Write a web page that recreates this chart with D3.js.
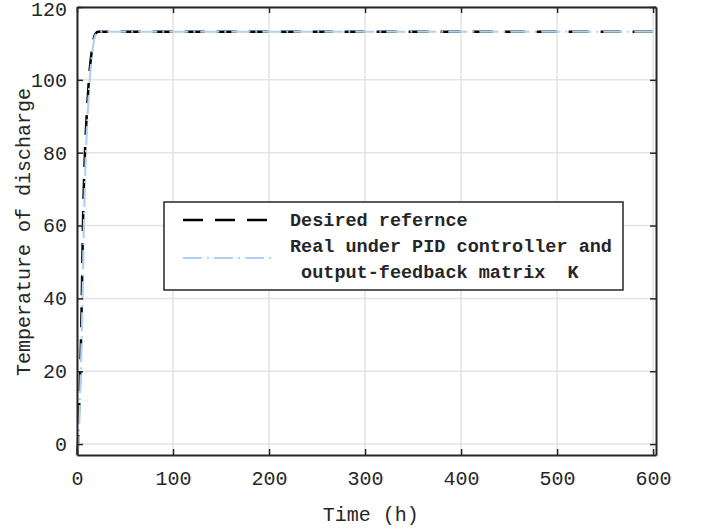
<!DOCTYPE html>
<html>
<head>
<meta charset="utf-8">
<script src="https://cdn.jsdelivr.net/npm/d3@7"></script>
<style>
body { margin: 0; background: #fff; }
svg text { font-family: "Liberation Mono", monospace; fill: #262626; }
</style>
</head>
<body>
<div id="chart"></div>
<script>
var width = 702;
var height = 530;
var margin = {top: 7, right: 46, bottom: 75, left: 77};

// desired reference (black dashed)
var refTime = [0, 1, 2.2, 3.4, 4.3, 5, 6.2, 8.3, 10.5, 12.4, 14.5, 16.5, 18.5, 22, 30, 603];
var refTemp = [-3, 0, 10, 20, 30, 40, 60, 80, 92, 100, 106, 110, 112.3, 113.2, 113.2, 113.2];
// real under PID controller (light blue dash-dot)
var realTime = [0, 1.6, 2.8, 4.0, 5.0, 5.8, 7.2, 9.3, 11.4, 13.3, 15.3, 17.2, 19.2, 23, 30, 603];
var realTemp = [-3, 0, 10, 20, 30, 40, 60, 80, 92, 100, 106, 110, 112.3, 113.2, 113.2, 113.2];

var xTicks = [0, 100, 200, 300, 400, 500, 600];
var yTicks = [0, 20, 40, 60, 80, 100, 120];
var legendLines = ["Desired refernce", "Real under PID controller and", " output-feedback matrix  K"];

var svg = d3.select("#chart").append("svg")
	.attr("width", width)
	.attr("height", height);

var w = width - margin.left - margin.right;
var h = height - margin.top - margin.bottom;

var g = svg.append("g")
	.attr("transform", "translate(" + margin.left + "," + margin.top + ")");

var x = d3.scaleLinear().domain([0, 603]).range([0, w]);
var y = d3.scaleLinear().domain([-3, 120]).range([h, 0]);

// grid
g.selectAll(".xgrid").data(xTicks).enter().append("line")
	.attr("x1", d => x(d)).attr("x2", d => x(d))
	.attr("y1", 0).attr("y2", h)
	.attr("stroke", "#e3e3e3").attr("stroke-width", 1.5);
g.selectAll(".ygrid").data(yTicks).enter().append("line")
	.attr("x1", 0).attr("x2", w)
	.attr("y1", d => y(d)).attr("y2", d => y(d))
	.attr("stroke", "#e3e3e3").attr("stroke-width", 1.5);

// curves
var line = d3.line()
	.x(d => x(d[0]))
	.y(d => y(d[1]))
	.curve(d3.curveMonotoneX);

var refData = refTime.map((t, i) => [t, refTemp[i]]);
var realData = realTime.map((t, i) => [t, realTemp[i]]);

g.append("path")
	.datum(refData)
	.attr("d", line)
	.attr("fill", "none")
	.attr("stroke", "#000")
	.attr("stroke-width", 2.5)
	.attr("stroke-dasharray", "20,12");

g.append("path")
	.datum(realData)
	.attr("d", line)
	.attr("fill", "none")
	.attr("stroke", "#b0d2f2")
	.attr("stroke-width", 2.2)
	.attr("stroke-dasharray", "19,5,2,5");

// axes, inward ticks, box
var xAxis = g.append("g")
	.attr("transform", "translate(0," + h + ")")
	.call(d3.axisBottom(x).tickValues(xTicks).tickSizeInner(-6).tickSizeOuter(0).tickPadding(16));
var yAxis = g.append("g")
	.call(d3.axisLeft(y).tickValues(yTicks).tickSizeInner(-6).tickSizeOuter(0).tickPadding(10));
var xTop = g.append("g")
	.call(d3.axisTop(x).tickValues(xTicks).tickSizeInner(-6).tickSizeOuter(0).tickFormat(""));
var yRight = g.append("g")
	.attr("transform", "translate(" + w + ",0)")
	.call(d3.axisRight(y).tickValues(yTicks).tickSizeInner(-6).tickSizeOuter(0).tickFormat(""));

[xAxis, yAxis, xTop, yRight].forEach(function(a) {
	a.select(".domain").attr("stroke", "#262626").attr("stroke-width", 2);
	a.selectAll(".tick line").attr("stroke", "#262626").attr("stroke-width", 1.5);
	a.selectAll(".tick text")
		.style("font-family", "Liberation Mono, monospace")
		.style("font-size", "20px")
		.attr("fill", "#262626");
});
// keep the top label inside the frame
yAxis.selectAll(".tick text").filter(d => d === 120).attr("dy", "0.40em");

// axis labels
svg.append("text")
	.attr("x", margin.left + x(306))
	.attr("y", 521)
	.attr("text-anchor", "middle")
	.style("font-size", "20px")
	.text("Time (h)");

svg.append("text")
	.attr("transform", "translate(30," + 232 + ") rotate(-90)")
	.attr("text-anchor", "middle")
	.style("font-size", "20px")
	.text("Temperature of discharge");

// legend
var legend = svg.append("g");
legend.append("rect")
	.attr("x", 164).attr("y", 202)
	.attr("width", 459).attr("height", 88)
	.attr("fill", "#fff")
	.attr("stroke", "#262626")
	.attr("stroke-width", 1.5);

legend.append("line")
	.attr("x1", 183).attr("x2", 270).attr("y1", 220).attr("y2", 220)
	.attr("stroke", "#000").attr("stroke-width", 2.5)
	.attr("stroke-dasharray", "20,12");
legend.append("line")
	.attr("x1", 183).attr("x2", 276).attr("y1", 258).attr("y2", 258)
	.attr("stroke", "#b0d2f2").attr("stroke-width", 2.2)
	.attr("stroke-dasharray", "19,5,2,5");

legend.selectAll(".lt").data(legendLines).enter().append("text")
	.attr("x", 290)
	.attr("y", (d, i) => 226 + i * 26)
	.attr("xml:space", "preserve")
	.style("white-space", "pre")
	.style("font-size", "18.5px")
	.style("font-weight", "bold")
	.text(d => d);
</script>
</body>
</html>
